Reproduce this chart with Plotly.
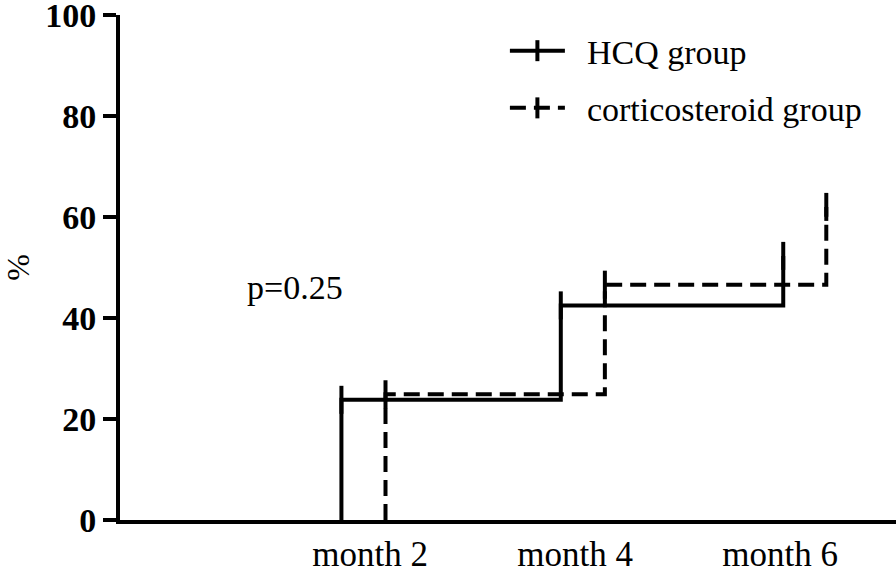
import plotly.graph_objects as go

# ---- data ----
month_ticks = [2, 4, 6]
month_labels = ["month 2", "month 4", "month 6"]
y_ticks = [0, 20, 40, 60, 80, 100]

hcq_month = [1.72, 1.72, 3.86, 6.03]
hcq_pct = [0, 23.8, 42.5, 52.3]

cort_month = [2.15, 2.15, 4.29, 6.45]
cort_pct = [0, 24.9, 46.6, 62.0]

series_names = ["HCQ group", "corticosteroid group"]

FONT = "Liberation Serif"
PAD = "\u00a0\u00a0"

fig = go.Figure()
fig.add_trace(go.Scatter(
    x=hcq_month, y=hcq_pct, mode="lines+markers", name=PAD + series_names[0],
    line=dict(color="black", width=4, shape="hv"),
    marker=dict(symbol="line-ns", size=[0, 20, 20, 20], opacity=1,
                line=dict(width=4, color="#000000"), color="#000000"),
    legendgroup="a",
))
fig.add_trace(go.Scatter(
    x=cort_month, y=cort_pct, mode="lines+markers", name=PAD + series_names[1],
    line=dict(color="black", width=4, shape="hv", dash="16px,8px"),
    marker=dict(symbol="line-ns", size=[0, 20, 20, 20], opacity=1,
                line=dict(width=4, color="#000000"), color="#000000"),
    legendgroup="b",
))

fig.add_annotation(x=1.27, y=46, xref="x", yref="y", text="p=0.25",
                   showarrow=False, font=dict(family=FONT, size=34, color="black"))

fig.update_layout(
    width=896, height=583,
    margin=dict(l=120, r=0, t=15, b=63),
    paper_bgcolor="white", plot_bgcolor="white",
    showlegend=True,
    legend=dict(x=0.496, y=0.986, xanchor="left", yanchor="top",
                font=dict(family=FONT, size=34, color="black"),
                bgcolor="rgba(0,0,0,0)", traceorder="grouped",
                tracegroupgap=10, itemwidth=55),
    xaxis=dict(range=[-0.44, 7.13], tickvals=month_ticks, ticktext=month_labels,
               showline=True, linecolor="black", linewidth=4, ticks="",
               showgrid=False, zeroline=False, automargin=False,
               tickfont=dict(family=FONT, size=35, color="black")),
    yaxis=dict(range=[0, 100], tickvals=y_ticks, showline=True, linecolor="black",
               linewidth=4, ticks="outside", ticklen=13, tickwidth=4, tickcolor="black",
               showgrid=False, zeroline=False, automargin=False,
               ticklabeloverflow="allow",
               tickfont=dict(family=FONT, size=34, color="black", weight="bold"),
               title=dict(text="%", font=dict(family=FONT, size=32, color="black"),
                          standoff=62)),
)

fig.write_html("out.html", post_script="document.body.style.margin='0';",
               config={"displayModeBar": False})
